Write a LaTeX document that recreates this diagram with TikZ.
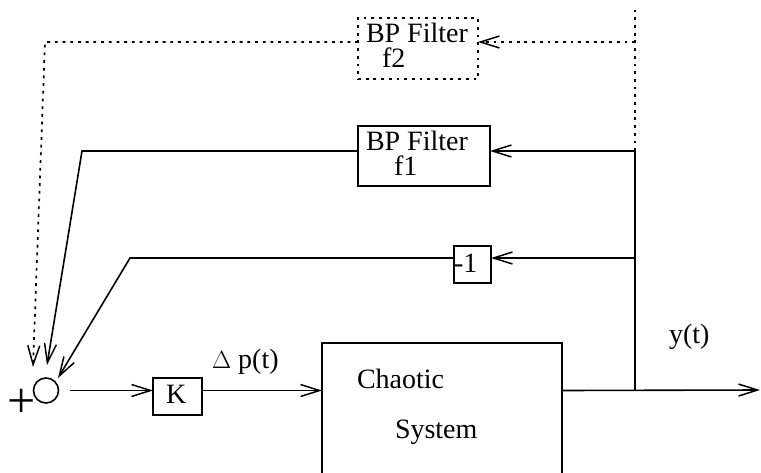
\documentclass[tikz,border=0pt]{standalone}
\usepackage{fontspec}
\setmainfont{Liberation Serif}
\usetikzlibrary{arrows.meta}
\begin{document}
\begin{tikzpicture}[x=1pt,y=-1pt,
  line width=1.6pt,
  every node/.style={font=\fontsize{28}{30}\selectfont, inner sep=0pt, outer sep=0pt},
  blk/.style={draw, line width=1.6pt},
  dotline/.style={line width=1.7pt, dash pattern=on 2.8pt off 4.9pt},
  tip/.style={-{Straight Barb[length=19pt,width=12pt,line width=1.5pt]}},
  lbl/.style={anchor=base west, text depth=0pt}
]
\useasboundingbox (0,0) rectangle (761,472);
\clip (0,0) rectangle (761,472);

% blocks
\node[blk, dotline, minimum width=120pt, minimum height=61pt] (f2) at (418,48.5) {};
\node[blk, minimum width=132pt, minimum height=60pt] (f1) at (424,156) {};
\node[blk, minimum width=37pt, minimum height=37pt] (m1) at (472.5,264.5) {};
\node[blk, minimum width=49pt, minimum height=37pt] (K) at (177.5,396.5) {};
\node[blk, minimum width=240pt, minimum height=160pt] (C) at (442,423) {};
\node[draw, circle, minimum size=25pt, line width=1.6pt] (sum) at (46,390.5) {};

% texts
\node[lbl] (t2a) at (366,42) {BP Filter};
\node[lbl] (t2b) at (382,67) {f2};
\node[lbl] (t1a) at (366,150) {BP Filter};
\node[lbl] (t1b) at (394,175) {f1};
\node[lbl] (tm1) at (454,272) {-1};
\node[lbl] (tK) at (166,403) {K};
\node[lbl] (tdp) at (212,368) {$\Delta$ p(t)};
\node[lbl] (ty) at (669,343) {y(t)};
\node[lbl] (tc1) at (357,388) {Chaotic};
\node[lbl] (tc2) at (395,438) {System};
\node[font=\fontsize{50}{52}\selectfont] (plus) at (22,403) {+};

% coordinates
\coordinate (tap0) at (635,390);
\coordinate (tap1) at (635,151);
\coordinate (tap2) at (635,258);
\coordinate (tap3) at (635,42);
\coordinate (top) at (635,10);
\coordinate (out) at (760,390);
\coordinate (d1) at (45,42);
\coordinate (d2) at (33,367);
\coordinate (s1) at (82,151);
\coordinate (s2) at (47,365);
\coordinate (m1a) at (130,258);
\coordinate (m1b) at (58,378);

% forward path
\draw[tip] (sum.east) ++(11pt,0) coordinate (so) -- (K.west |- so);
\draw[tip] (K.east |- so) -- (C.west |- so);
\draw[tip] (C.east |- so) -- (out);
\draw (tap0) -- (tap1);

% feedback via f1
\draw[tip] (tap1) -- (f1.east |- tap1);
\draw[tip] (f1.west |- tap1) -- (s1) -- (s2);

% feedback via -1
\draw[tip] (tap2) -- (m1.east |- tap2);
\draw[tip] (m1.west |- tap2) -- (m1a) -- (m1b);

% dotted feedback via f2
\draw[dotline] (tap1) -- (top);
\draw[dotline, tip] (tap3) -- (f2.east |- tap3);
\draw[dotline, tip] (f2.west |- tap3) -- (d1) -- (d2);
\end{tikzpicture}
\end{document}
